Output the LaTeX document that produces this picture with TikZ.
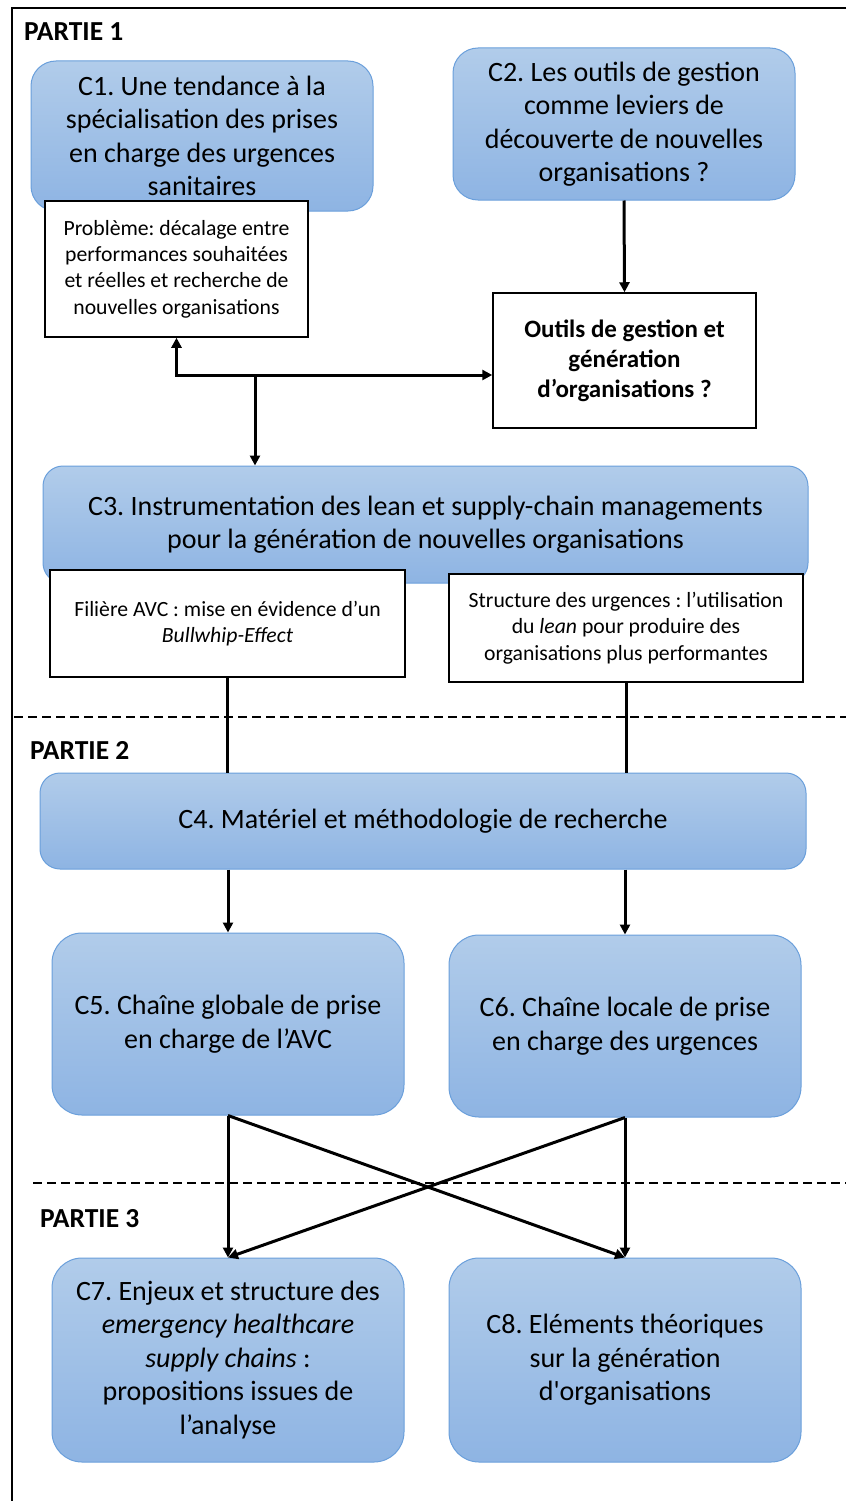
\documentclass[tikz,border=0pt]{standalone}
\usepackage{fontspec}
\setmainfont{Carlito}[Ligatures=TeXOff]
\usetikzlibrary{arrows.meta}
\definecolor{hautbleu}{HTML}{B1CCEA}
\definecolor{basbleu}{HTML}{8EB4E3}
\definecolor{bordbleu}{HTML}{6A9FDB}
\frenchspacing

\begin{document}
\begin{tikzpicture}[x=1pt,y=-1pt,
    chap/.style={draw=bordbleu, line width=1pt, rounded corners=25pt, top color=hautbleu, bottom color=basbleu,
        align=center, inner sep=0pt, font=\fontsize{28}{33.5}\selectfont},
    note/.style={draw=black, line width=1.5pt, fill=white, align=center, inner sep=0pt,
        font=\fontsize{21.7}{26.3}\selectfont},
    fleche/.style={-{Triangle[length=10pt,width=10pt]}, line width=3pt},
    lien/.style={line width=3pt},
    partie/.style={anchor=west, inner sep=0pt, font=\fontsize{27.5}{30}\selectfont\bfseries},
    sep/.style={dash pattern=on 9pt off 5pt, line width=2pt}]
    \useasboundingbox (0,0) rectangle (846,1501);
    	\draw[line width=2.5pt] (846,8) -- (12,8) -- (12,1501);
    % partie 1
    	\node[partie] (p1) at (24,32) {PARTIE 1};
    	\node[chap, minimum width=342pt, minimum height=150pt] (c1) at (202,136)
    		{C1. Une tendance à la\\spécialisation des prises\\en charge des urgences\\sanitaires};
    	\node[chap, minimum width=342pt, minimum height=152pt] (c2) at (624,124)
    		{C2. Les outils de gestion\\comme leviers de\\découverte de nouvelles\\organisations ?};
    	\node[note, minimum width=263pt, minimum height=136pt] (prob) at (176.5,269)
    		{Problème: décalage entre\\performances souhaitées\\et réelles et recherche de\\nouvelles organisations};
    	\node[note, minimum width=263pt, minimum height=135pt, font=\fontsize{25}{30}\selectfont\bfseries] (outils) at (624.5,360.5)
    		{Outils de gestion et\\génération\\d’organisations ?};
    	\draw[fleche] (c2.south) -- (outils.north);
    	\coordinate (jn) at (255,375);
    	\draw[fleche] (jn) -| (prob.south);
    	\draw[fleche] (jn) -- (jn -| outils.west);
    	\node[chap, rounded corners=20pt, minimum width=765pt, minimum height=117pt] (c3) at (425.5,524.5)
    		{C3. Instrumentation des lean et supply-chain managements\\pour la génération de nouvelles organisations};
    	\draw[fleche] (jn) -- (jn |- c3.north);
    	\node[note, minimum width=355pt, minimum height=107pt] (avc) at (227.5,623.5)
    		{Filière AVC : mise en évidence d’un\\\textit{Bullwhip-Effect}};
    	\node[note, minimum width=354pt, minimum height=108pt] (urg) at (626,628)
    		{Structure des urgences : l’utilisation\\du \textit{lean} pour produire des\\organisations plus performantes};
    % partie 2
    	\draw[sep] (14,717) -- (846,717);
    	\node[partie] (p2) at (30,750) {PARTIE 2};
    	\node[chap, rounded corners=20pt, minimum width=766pt, minimum height=96pt] (c4) at (423,821)
    		{C4. Matériel et méthodologie de recherche};
    	\draw[lien] (avc.south) -- (avc.south |- c4.north);
    	\draw[lien] (urg.south) -- (urg.south |- c4.north);
    	\node[chap, rounded corners=30pt, minimum width=352pt, minimum height=182pt] (c5) at (228,1024)
    		{C5. Chaîne globale de prise\\en charge de l’AVC};
    	\node[chap, rounded corners=30pt, minimum width=352pt, minimum height=182pt] (c6) at (625,1026)
    		{C6. Chaîne locale de prise\\en charge des urgences};
    	\draw[fleche] (c4.south -| c5.north) -- (c5.north);
    	\draw[fleche] (c4.south -| c6.north) -- (c6.north);
    % partie 3
    	\draw[sep] (33,1183) -- (846,1183);
    	\node[partie] (p3) at (40,1219) {PARTIE 3};
    	\node[chap, rounded corners=30pt, minimum width=352pt, minimum height=204pt] (c7) at (228,1360)
    		{C7. Enjeux et structure des\\\textit{emergency healthcare}\\\textit{supply chains} :\\propositions issues de\\l’analyse};
    	\node[chap, rounded corners=30pt, minimum width=352pt, minimum height=204pt] (c8) at (625,1360)
    		{C8. Eléments théoriques\\sur la génération\\d'organisations};
    	\draw[fleche] (c5.south) -- (c7.north);
    	\draw[fleche] (c5.south) -- (c8.north);
    	\draw[fleche] (c6.south) -- (c8.north);
    	\draw[fleche] (c6.south) -- (c7.north);
\end{tikzpicture}
\end{document}
